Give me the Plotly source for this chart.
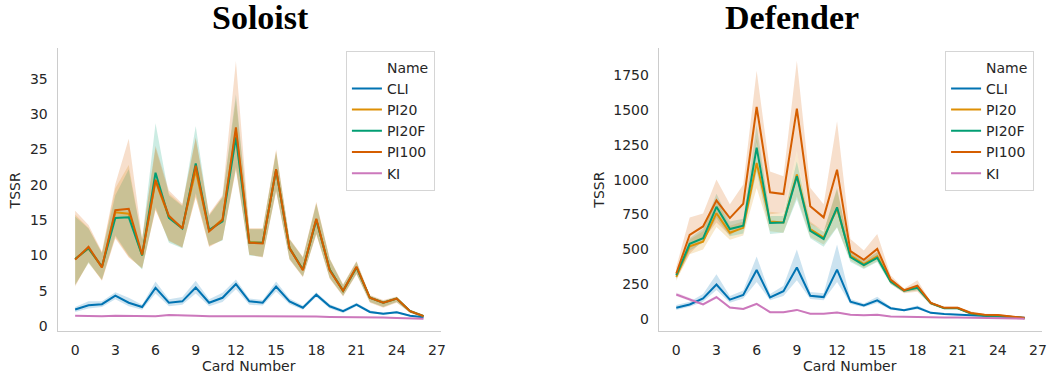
import plotly.graph_objects as go

# ---------------- data ----------------
cards = list(range(27))
series_names = ["CLI", "PI20", "PI20F", "PI100", "KI"]
colors = ["#0173b2", "#de8f05", "#029e73", "#d55e00", "#cc78bc"]

# Soloist
sol_cli = [2.35, 2.95, 3.1, 4.3, 3.3, 2.7, 5.4, 3.3, 3.5, 5.45, 3.3, 4.0, 5.95, 3.5, 3.3, 5.6, 3.5, 2.6, 4.45, 2.8, 2.1, 3.05, 2.0, 1.75, 1.95, 1.45, 1.25]
sol_cli_hi = [2.7, 3.5, 3.5, 4.8, 4.0, 3.0, 6.3, 3.8, 4.1, 6.4, 3.8, 4.7, 6.6, 3.9, 3.7, 6.3, 3.9, 2.9, 4.8, 3.1, 2.35, 3.3, 2.2, 1.9, 2.1, 1.55, 1.35]
sol_cli_lo = [2.0, 2.5, 2.7, 3.8, 2.8, 2.3, 4.6, 2.8, 3.0, 4.6, 2.8, 3.4, 5.2, 3.0, 2.9, 4.9, 3.1, 2.3, 4.1, 2.5, 1.85, 2.8, 1.8, 1.6, 1.8, 1.35, 1.15]

sol_pi20 = [9.5, 11.0, 8.3, 16.1, 15.9, 10.0, 20.5, 15.4, 13.9, 22.0, 13.5, 15.1, 27.6, 11.9, 11.8, 22.1, 11.1, 8.0, 15.1, 8.0, 5.0, 8.3, 4.0, 3.3, 3.9, 2.1, 1.4]
sol_pi20_hi = [15.8, 13.9, 10.4, 19.5, 22.8, 12.3, 25.2, 18.8, 17.1, 26.5, 15.7, 18.3, 32.0, 13.8, 13.8, 24.8, 12.3, 9.7, 17.4, 9.5, 5.8, 9.1, 4.3, 3.6, 4.1, 2.3, 1.6]
sol_pi20_lo = [5.8, 8.9, 6.5, 12.6, 9.8, 8.1, 16.5, 12.0, 11.1, 18.2, 11.3, 12.2, 22.3, 10.1, 9.8, 19.1, 9.5, 7.0, 13.0, 6.8, 4.3, 7.4, 3.4, 2.7, 3.4, 1.9, 1.2]

sol_pi20f = [9.5, 11.0, 8.4, 15.3, 15.4, 10.0, 21.7, 15.3, 13.8, 23.0, 13.6, 14.8, 26.7, 11.8, 11.8, 22.1, 11.0, 8.0, 15.0, 8.0, 5.0, 8.3, 4.0, 3.3, 3.9, 2.1, 1.4]
sol_pi20f_hi = [15.5, 13.8, 10.3, 18.5, 22.2, 12.2, 28.7, 18.5, 17.0, 28.3, 15.6, 18.2, 32.8, 13.7, 13.7, 24.6, 12.3, 9.7, 17.3, 9.5, 5.8, 9.1, 4.3, 3.6, 4.1, 2.3, 1.6]
sol_pi20f_lo = [5.8, 9.0, 6.6, 12.8, 10.0, 8.0, 16.8, 11.8, 11.0, 18.8, 11.4, 12.1, 22.5, 10.0, 9.8, 19.2, 9.5, 7.0, 13.1, 6.8, 4.3, 7.4, 3.4, 2.7, 3.4, 1.9, 1.2]

sol_pi100 = [9.4, 11.2, 8.3, 16.4, 16.6, 10.1, 20.7, 15.6, 13.8, 22.7, 13.4, 15.0, 28.1, 11.8, 11.7, 22.2, 11.0, 7.9, 15.2, 7.9, 5.0, 8.4, 4.0, 3.3, 3.9, 2.1, 1.4]
sol_pi100_hi = [16.3, 14.3, 10.5, 20.1, 26.5, 12.4, 25.5, 19.2, 17.3, 26.7, 15.9, 18.5, 37.5, 13.8, 13.8, 25.0, 12.4, 9.8, 17.6, 9.6, 5.9, 9.2, 4.4, 3.7, 4.2, 2.3, 1.6]
sol_pi100_lo = [5.6, 9.1, 6.4, 12.4, 9.7, 8.2, 16.4, 12.1, 11.1, 18.3, 11.2, 12.2, 22.0, 10.1, 9.7, 19.0, 9.4, 6.9, 13.0, 6.7, 4.2, 7.3, 3.3, 2.6, 3.3, 1.9, 1.2]

sol_ki = [1.45, 1.4, 1.4, 1.45, 1.4, 1.4, 1.4, 1.55, 1.45, 1.45, 1.4, 1.4, 1.45, 1.4, 1.4, 1.4, 1.35, 1.35, 1.35, 1.3, 1.3, 1.3, 1.25, 1.2, 1.15, 1.1, 1.05]
sol_ki_hi = [1.52, 1.47, 1.47, 1.52, 1.47, 1.47, 1.47, 1.62, 1.52, 1.52, 1.47, 1.47, 1.52, 1.47, 1.47, 1.47, 1.42, 1.42, 1.42, 1.37, 1.37, 1.37, 1.32, 1.27, 1.22, 1.17, 1.12]
sol_ki_lo = [1.38, 1.33, 1.33, 1.38, 1.33, 1.33, 1.33, 1.48, 1.38, 1.38, 1.33, 1.33, 1.38, 1.33, 1.33, 1.33, 1.28, 1.28, 1.28, 1.23, 1.23, 1.23, 1.18, 1.13, 1.08, 1.03, 0.98]

# Defender
def_cli = [82, 105, 149, 248, 140, 173, 352, 156, 200, 370, 168, 158, 355, 125, 98, 135, 78, 64, 83, 45, 37, 33, 30, 24, 21, 14, 10]
def_cli_hi = [101, 125, 180, 321, 165, 205, 449, 180, 240, 499, 195, 185, 535, 145, 112, 160, 88, 72, 97, 52, 42, 38, 34, 28, 25, 17, 12]
def_cli_lo = [65, 88, 125, 208, 118, 148, 267, 135, 165, 279, 145, 135, 267, 108, 85, 115, 68, 56, 70, 38, 32, 28, 26, 20, 17, 11, 8]

def_pi20 = [303, 522, 555, 760, 620, 655, 1120, 700, 693, 1037, 645, 585, 795, 455, 395, 450, 272, 206, 228, 115, 79, 79, 41, 27, 25, 15, 7]
def_pi20_hi = [330, 570, 630, 860, 670, 700, 1300, 770, 760, 1200, 700, 630, 930, 485, 420, 485, 292, 217, 248, 123, 85, 85, 47, 31, 29, 18, 10]
def_pi20_lo = [275, 465, 500, 660, 570, 600, 940, 630, 620, 880, 590, 535, 660, 420, 365, 415, 252, 192, 208, 106, 72, 72, 35, 22, 20, 12, 5]

def_pi20f = [315, 540, 580, 806, 646, 670, 1231, 690, 693, 1025, 634, 575, 802, 445, 388, 440, 270, 204, 225, 114, 78, 78, 40, 26, 24, 15, 7]
def_pi20f_hi = [340, 580, 650, 900, 700, 720, 1392, 740, 740, 1131, 690, 625, 942, 480, 415, 480, 290, 215, 245, 122, 84, 84, 46, 30, 28, 18, 10]
def_pi20f_lo = [290, 490, 550, 725, 595, 615, 1060, 610, 620, 859, 580, 520, 658, 410, 360, 410, 250, 190, 205, 105, 72, 72, 35, 22, 20, 12, 5]

def_pi100 = [327, 605, 665, 852, 725, 828, 1522, 910, 897, 1510, 810, 730, 1072, 488, 425, 504, 284, 206, 240, 116, 81, 81, 44, 32, 29, 18, 9]
def_pi100_hi = [374, 729, 757, 1001, 824, 966, 1782, 1060, 1025, 1853, 942, 824, 1420, 575, 492, 611, 315, 220, 279, 125, 90, 90, 54, 38, 36, 24, 14]
def_pi100_lo = [291, 469, 568, 693, 599, 670, 1273, 753, 764, 1202, 682, 634, 764, 445, 374, 445, 256, 185, 196, 102, 71, 71, 28, 17, 16, 9, 3]

def_ki = [177, 142, 106, 158, 83, 73, 109, 50, 50, 66, 38, 38, 47, 31, 28, 31, 19, 17, 17, 14, 12, 11, 9, 7, 6, 4, 3]
def_ki_hi = [190, 152, 115, 170, 90, 80, 118, 55, 55, 72, 42, 42, 52, 35, 31, 34, 21, 19, 19, 16, 14, 12, 10, 8, 7, 5, 4]
def_ki_lo = [164, 132, 97, 146, 76, 66, 100, 45, 45, 60, 34, 34, 42, 27, 25, 28, 17, 15, 15, 12, 10, 10, 8, 6, 5, 3, 2]

x_ticks = [0, 3, 6, 9, 12, 15, 18, 21, 24, 27]
sol_y_ticks = [0, 5, 10, 15, 20, 25, 30, 35]
def_y_ticks = [0, 250, 500, 750, 1000, 1250, 1500, 1750]

soloist = {
    "CLI": (sol_cli, sol_cli_lo, sol_cli_hi),
    "PI20": (sol_pi20, sol_pi20_lo, sol_pi20_hi),
    "PI20F": (sol_pi20f, sol_pi20f_lo, sol_pi20f_hi),
    "PI100": (sol_pi100, sol_pi100_lo, sol_pi100_hi),
    "KI": (sol_ki, sol_ki_lo, sol_ki_hi),
}
defender = {
    "CLI": (def_cli, def_cli_lo, def_cli_hi),
    "PI20": (def_pi20, def_pi20_lo, def_pi20_hi),
    "PI20F": (def_pi20f, def_pi20f_lo, def_pi20f_hi),
    "PI100": (def_pi100, def_pi100_lo, def_pi100_hi),
    "KI": (def_ki, def_ki_lo, def_ki_hi),
}

# ---------------- figure ----------------
W, H = 1053, 381
OY = 3


def fx(px):
    return px / W


def fy(py):
    return 1 - (py + OY) / H


def rgba(hexc, a):
    h = hexc.lstrip("#")
    return "rgba(%d,%d,%d,%s)" % (int(h[0:2], 16), int(h[2:4], 16), int(h[4:6], 16), a)


fig = go.Figure()

panels = [
    (soloist, "x", "y", "legend"),
    (defender, "x2", "y2", "legend2"),
]

for data, xa, ya, lg in panels:
    for name, col in zip(series_names, colors):
        mean, lo, hi = data[name]
        fig.add_trace(go.Scatter(
            x=cards + cards[::-1], y=hi + lo[::-1],
            fill="toself", fillcolor=rgba(col, 0.2),
            line=dict(width=0, color="rgba(0,0,0,0)"),
            mode="lines", showlegend=False, hoverinfo="skip",
            xaxis=xa, yaxis=ya,
        ))
    fig.add_trace(go.Scatter(
        x=[None], y=[None], mode="lines", name="Name",
        line=dict(color="rgba(0,0,0,0)", width=2),
        xaxis=xa, yaxis=ya, legend=lg, showlegend=True,
    ))
    for name, col in zip(series_names, colors):
        mean, lo, hi = data[name]
        fig.add_trace(go.Scatter(
            x=cards, y=mean, mode="lines", name=name,
            line=dict(color=col, width=2),
            xaxis=xa, yaxis=ya, legend=lg, showlegend=True,
        ))

font_fam = "DejaVu Sans"
tick_col = "#262626"
axis_line = "#cccccc"

left_dom = [fx(58), fx(443)]
right_dom = [fx(662), fx(1047)]
y_dom = [fy(331), fy(45)]

common_x = dict(
    range=[-1.3, 27.3], tickvals=x_ticks, showgrid=False, zeroline=False,
    showline=True, linecolor=axis_line, linewidth=1.3,
    ticks="outside", ticklen=6, tickcolor="rgba(0,0,0,0)",
    tickfont=dict(family=font_fam, size=14, color=tick_col),
)
common_y = dict(
    showgrid=False, zeroline=False,
    showline=True, linecolor=axis_line, linewidth=1.3,
    ticks="outside", ticklen=6, tickcolor="rgba(0,0,0,0)",
    tickfont=dict(family=font_fam, size=14, color=tick_col),
)

legend_common = dict(
    bgcolor="rgba(255,255,255,0.85)", bordercolor="#d5d5d5", borderwidth=1,
    font=dict(family=font_fam, size=14, color=tick_col),
    yanchor="top", xanchor="right", tracegroupgap=0,
)

fig.update_layout(
    width=W, height=H,
    margin=dict(l=0, r=0, t=0, b=0),
    paper_bgcolor="white", plot_bgcolor="white",
    xaxis=dict(domain=left_dom, anchor="y", **common_x),
    yaxis=dict(domain=y_dom, anchor="x", range=[-0.75, 39.4], tickvals=sol_y_ticks, **common_y),
    xaxis2=dict(domain=right_dom, anchor="y2", **common_x),
    yaxis2=dict(domain=y_dom, anchor="x2", range=[-88, 1948], tickvals=def_y_ticks, **common_y),
    legend=dict(x=fx(437), y=fy(48), **legend_common),
    legend2=dict(x=fx(1039), y=fy(48), **legend_common),
)

title_font = dict(family="Liberation Serif", size=34, color="black")
label_font = dict(family=font_fam, size=14, color=tick_col)

for cx, txt in [(262, "<b>Soloist</b>"), (796, "<b>Defender</b>")]:
    fig.add_annotation(xref="paper", yref="paper", x=fx(cx), y=fy(15), text=txt,
                       showarrow=False, xanchor="center", yanchor="middle", font=title_font)

for cx in [(58 + 443) / 2, (662 + 1047) / 2]:
    fig.add_annotation(xref="paper", yref="paper", x=fx(cx), y=fy(366), text="Card Number",
                       showarrow=False, xanchor="center", yanchor="middle", font=label_font)
for tx in [16, 602]:
    fig.add_annotation(xref="paper", yref="paper", x=fx(tx), y=fy(189), text="TSSR",
                       textangle=-90, showarrow=False, xanchor="center", yanchor="middle", font=label_font)

fig.write_html("out.html", config={"displayModeBar": False},
               post_script="document.body.style.margin='0px';")
